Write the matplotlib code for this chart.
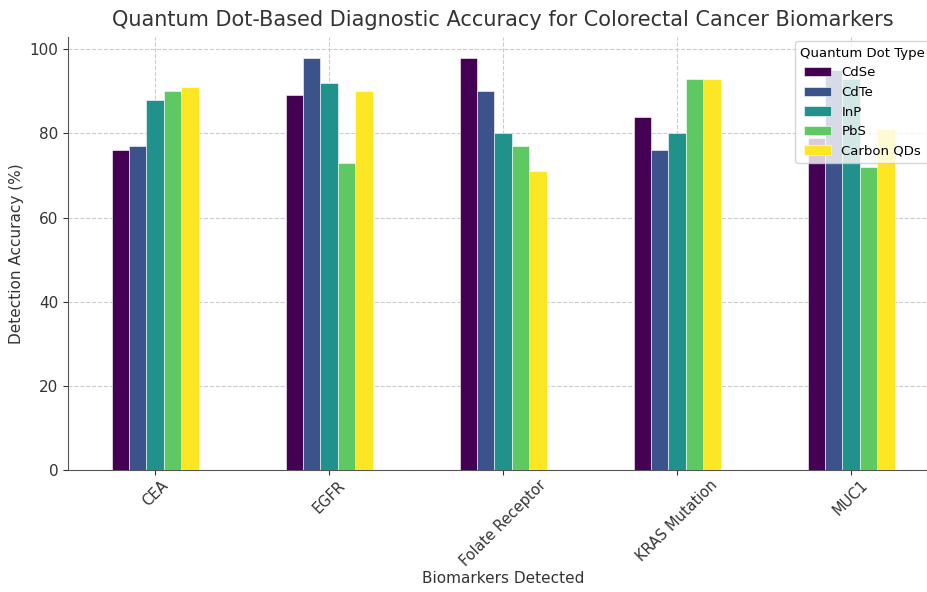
import matplotlib
matplotlib.use("Agg")
import matplotlib.pyplot as plt
import numpy as np

biomarkers = ["CEA", "EGFR", "Folate Receptor", "KRAS Mutation", "MUC1"]
qd_types = ["CdSe", "CdTe", "InP", "PbS", "Carbon QDs"]
cdse = [76, 89, 98, 84, 79]
cdte = [77, 98, 90, 76, 95]
inp = [88, 92, 80, 80, 93]
pbs = [90, 73, 77, 93, 72]
carbon = [91, 90, 71, 93, 81]
series = [cdse, cdte, inp, pbs, carbon]
colors = ["#440154", "#3b528b", "#21918c", "#5ec962", "#fde725"]

plt.rcParams['font.family'] = ['DejaVu Sans']
text_col = "#333333"

fig = plt.figure(figsize=(9.27, 5.92), dpi=100)
ax = fig.add_axes([68 / 927, 122 / 592, 870 / 927, 433 / 592])

x = np.arange(len(biomarkers))
w = 0.1
for i, (name, vals) in enumerate(zip(qd_types, series)):
    ax.bar(x - 0.2 + i * w, vals, width=w, color=colors[i], label=name,
           edgecolor="white", linewidth=0.4, zorder=3)

ax.set_xlim(-0.5, 4.5)
ax.set_ylim(0, 102.9)
ax.set_xticks(x)
ax.set_xticklabels(biomarkers, rotation=45, fontsize=10.5, color=text_col)
ax.set_yticks([0, 20, 40, 60, 80, 100])
ax.tick_params(axis='y', labelsize=11, colors=text_col)
ax.tick_params(axis='x', colors=text_col, pad=2)
ax.grid(True, linestyle='--', color='#cccccc', linewidth=0.8, zorder=0)
ax.set_axisbelow(True)
for s in ['top', 'right']:
    ax.spines[s].set_visible(False)
ax.spines['left'].set_color("#555555")
ax.spines['bottom'].set_color("#555555")

ax.set_title("Quantum Dot-Based Diagnostic Accuracy for Colorectal Cancer Biomarkers",
             fontsize=15, color=text_col, pad=8)
ax.set_xlabel("Biomarkers Detected", fontsize=11, color=text_col, labelpad=1)
ax.set_ylabel("Detection Accuracy (%)", fontsize=11, color=text_col)

leg = ax.legend(title="Quantum Dot Type", loc="upper right",
                bbox_to_anchor=(869 / 870, 1.005), fontsize=9.5, title_fontsize=9.5,
                labelspacing=0.5)
leg.get_frame().set_alpha(0.8)

fig.savefig("out.png", dpi=100)
